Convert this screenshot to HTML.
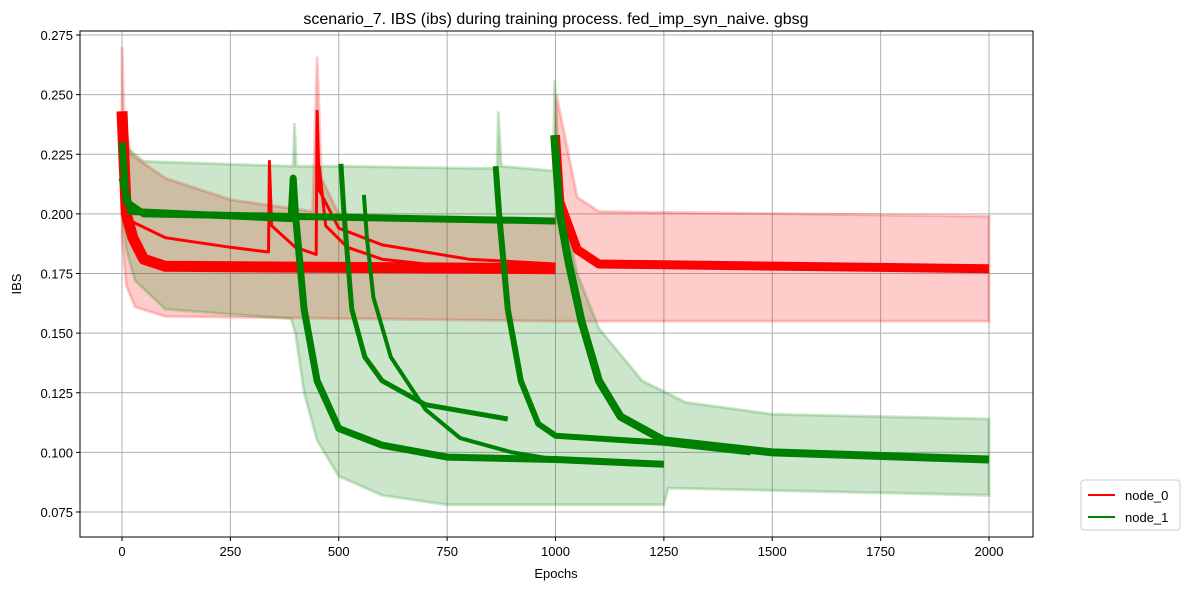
<!DOCTYPE html>
<html><head><meta charset="utf-8"><style>
body{margin:0;background:#fff;font-family:"Liberation Sans",sans-serif}
svg text{font-family:"Liberation Sans",sans-serif}
</style></head><body>
<svg id="chart" width="1191" height="590" viewBox="0 0 1191 590" xmlns="http://www.w3.org/2000/svg">
<rect width="1191" height="590" fill="#fff"/>
<text x="556" y="24" text-anchor="middle" font-size="16">scenario_7. IBS (ibs) during training process. fed_imp_syn_naive. gbsg</text>
<g id="grid"></g><g id="bands"></g><g id="lines"></g><g id="axes"></g>
<text x="556" y="578" text-anchor="middle" font-size="13">Epochs</text>
<text transform="translate(21,284) rotate(-90)" text-anchor="middle" font-size="13">IBS</text>
<g>
<rect x="1081" y="480" width="99" height="50" rx="3" fill="#fff" stroke="#ccc"/>
<line x1="1088" y1="495" x2="1115" y2="495" stroke="red" stroke-width="2"/>
<text x="1125" y="500" font-size="13">node_0</text>
<line x1="1088" y1="517" x2="1115" y2="517" stroke="green" stroke-width="2"/>
<text x="1125" y="522" font-size="13">node_1</text>
</g>
</svg>
<script>
const xTicks=[0,250,500,750,1000,1250,1500,1750,2000];
const yTicks=[0.075,0.100,0.125,0.150,0.175,0.200,0.225,0.250,0.275];
const redUpper=[[0,0.27],[5,0.24],[20,0.225],[100,0.215],[250,0.206],[440,0.201],[450,0.266],[460,0.215],[500,0.2],[1000,0.196],[1002,0.25],[1050,0.207],[1100,0.201],[2000,0.199]];
const redLower=[[0,0.19],[10,0.17],[30,0.161],[100,0.157],[1000,0.155],[2000,0.155]];
const greenUpper=[[0,0.24],[10,0.228],[50,0.222],[395,0.22],[398,0.238],[402,0.22],[500,0.22],[865,0.219],[868,0.243],[875,0.22],[995,0.218],[998,0.256],[1010,0.21],[1050,0.175],[1100,0.152],[1200,0.13],[1300,0.121],[1500,0.116],[2000,0.114]];
const greenLower=[[0,0.2],[10,0.185],[30,0.172],[100,0.16],[390,0.156],[400,0.15],[420,0.125],[450,0.105],[500,0.09],[600,0.082],[750,0.078],[1250,0.078],[1260,0.085],[2000,0.082]];
const red0=[[0,0.243],[10,0.2],[25,0.19],[50,0.181],[100,0.178],[1000,0.177]];
const red1=[[0,0.21],[20,0.197],[100,0.19],[250,0.186],[338,0.184],[340,0.222],[345,0.195],[400,0.186],[448,0.183],[450,0.243],[455,0.21],[500,0.194],[600,0.187],[700,0.184],[800,0.181],[1000,0.179]];
const red2=[[455,0.22],[470,0.195],[520,0.186],[600,0.181],[700,0.179]];
const red3=[[1000,0.233],[1010,0.205],[1050,0.185],[1100,0.179],[2000,0.177]];
const green0=[[0,0.23],[10,0.205],[50,0.2],[1000,0.197]];
const green1=[[0,0.215],[20,0.201],[390,0.198],[395,0.215],[400,0.2],[420,0.16],[450,0.13],[500,0.11],[600,0.103],[750,0.098],[1000,0.097],[1250,0.095]];
const green2=[[505,0.221],[512,0.2],[530,0.16],[560,0.14],[600,0.13],[700,0.12],[890,0.114]];
const green3=[[558,0.208],[565,0.19],[580,0.165],[620,0.14],[700,0.118],[780,0.106],[900,0.1],[1000,0.097]];
const green4=[[862,0.22],[870,0.2],[890,0.16],[920,0.13],[960,0.112],[1000,0.107],[1250,0.104],[1450,0.1]];
const green5=[[997,0.233],[1010,0.2],[1030,0.18],[1060,0.155],[1100,0.13],[1150,0.115],[1250,0.105],[1500,0.1],[2000,0.097]];
const X=v=>122+v*(989-122)/2000;
const Y=v=>512-(v-0.075)*2385;
const NS="http://www.w3.org/2000/svg";
function mk(t,p,a){const e=document.createElementNS(NS,t);for(const k in a)e.setAttribute(k,a[k]);p.appendChild(e);return e;}
const grid=document.getElementById('grid'),axes=document.getElementById('axes');
xTicks.forEach(t=>{
 const g=mk('line',grid,{x1:X(t),x2:X(t),y1:31,y2:537,stroke:'#b0b0b0','stroke-width':1});
 
 
 mk('line',axes,{x1:X(t),x2:X(t),y1:537,y2:541,stroke:'#000'});
 const tx=mk('text',axes,{x:X(t),y:556,'text-anchor':'middle','font-size':13});
 tx.textContent=t;
 
 
});
yTicks.forEach(t=>{
 const g=mk('line',grid,{x1:80,x2:1033,y1:Y(t),y2:Y(t),stroke:'#b0b0b0','stroke-width':1});
 
 
 mk('line',axes,{x1:76,x2:80,y1:Y(t),y2:Y(t),stroke:'#000'});
 const tx=mk('text',axes,{x:73,y:Y(t)+5,'text-anchor':'end','font-size':13});
 tx.textContent=t.toFixed(3);
 
 
});
const fr=mk('rect',axes,{x:80,y:31,width:953,height:506,fill:'none',stroke:'#000'});


const pts=a=>a.map(p=>X(p[0]).toFixed(1)+','+Y(p[1]).toFixed(1)).join(' ');
const bands=document.getElementById('bands');
function band(up,lo,col,name){
 const e=mk('polygon',bands,{points:pts(up)+' '+pts(lo.slice().reverse()),fill:col,'fill-opacity':0.2,stroke:col,'stroke-opacity':0.2,'stroke-width':3});
 
 
}
band(redUpper,redLower,'red','node-0-band');
band(greenUpper,greenLower,'green','node-1-band');
const lines=document.getElementById('lines');
function line(d,col,w,name){
 const e=mk('polyline',lines,{points:pts(d),fill:'none',stroke:col,'stroke-width':w,'stroke-linejoin':'round'});
 
 
}
line(red1,'red',3,'node-0-run-b');
line(red2,'red',3,'node-0-run-c');
line(red0,'red',11,'node-0-run-a');
line(red3,'red',9,'node-0-run-d');
line(green0,'green',7,'node-1-run-a');
line(green2,'green',5,'node-1-run-c');
line(green3,'green',4,'node-1-run-d');
line(green4,'green',6,'node-1-run-e');
line(green1,'green',7,'node-1-run-b');
line(green5,'green',8,'node-1-run-f');
</script>
</body></html>
